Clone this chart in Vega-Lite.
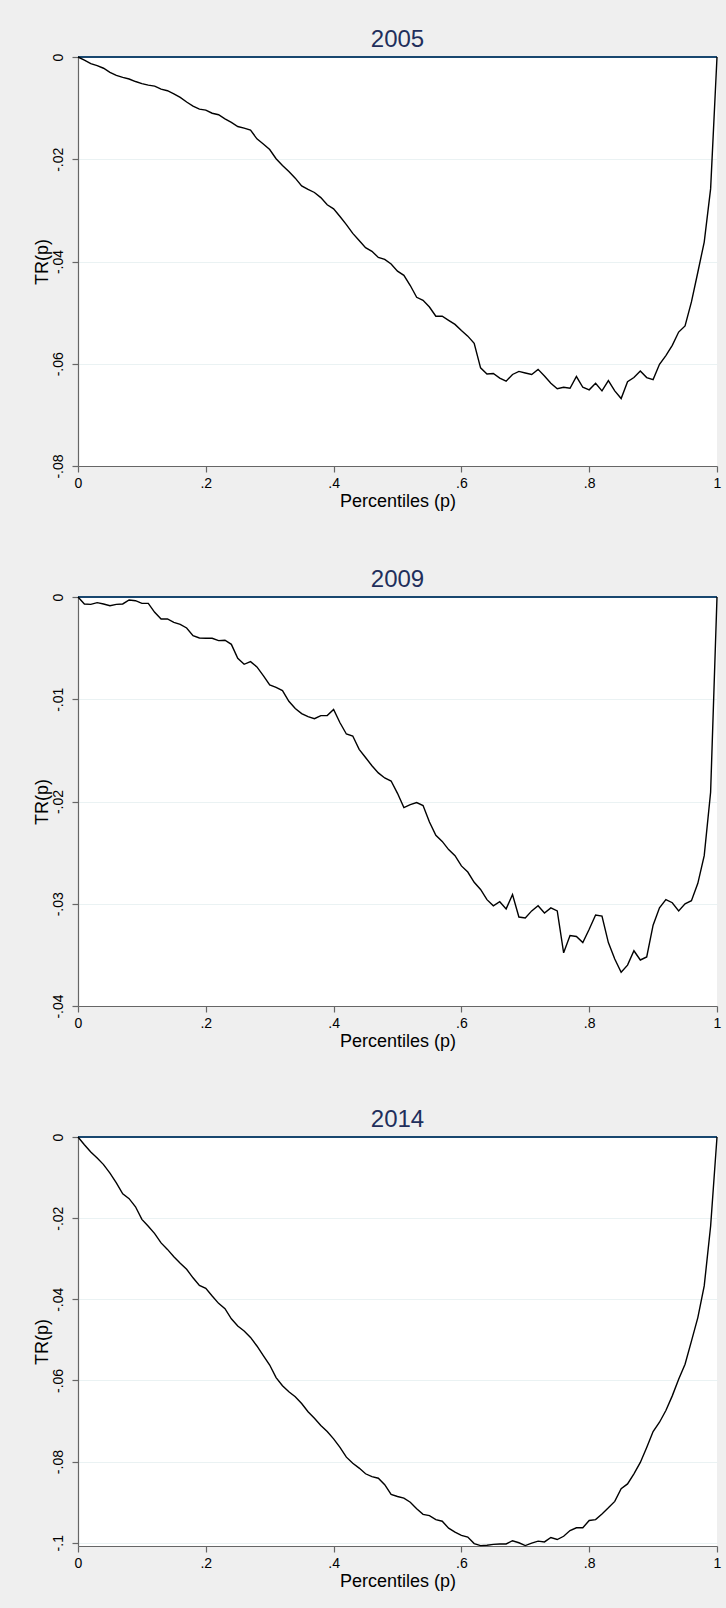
{
  "$schema": "https://vega.github.io/schema/vega-lite/v6.json",
  "background": "#efefef",
  "padding": {"left": 33, "top": 28, "right": 5, "bottom": 19},
  "spacing": 131,
  "bounds": "flush",
  "data": {
    "values": [
      {"year":"2005","p":0,"tr":0},{"year":"2005","p":0.01,"tr":-0.0006},{"year":"2005","p":0.02,"tr":-0.0013},{"year":"2005","p":0.03,"tr":-0.0017},{"year":"2005","p":0.04,"tr":-0.0022},{"year":"2005","p":0.05,"tr":-0.003},{"year":"2005","p":0.06,"tr":-0.0036},{"year":"2005","p":0.07,"tr":-0.004},{"year":"2005","p":0.08,"tr":-0.0043},{"year":"2005","p":0.09,"tr":-0.0048},
      {"year":"2005","p":0.1,"tr":-0.0052},{"year":"2005","p":0.11,"tr":-0.0055},{"year":"2005","p":0.12,"tr":-0.0057},{"year":"2005","p":0.13,"tr":-0.0063},{"year":"2005","p":0.14,"tr":-0.0066},{"year":"2005","p":0.15,"tr":-0.0072},{"year":"2005","p":0.16,"tr":-0.0079},{"year":"2005","p":0.17,"tr":-0.0088},{"year":"2005","p":0.18,"tr":-0.0096},{"year":"2005","p":0.19,"tr":-0.0102},
      {"year":"2005","p":0.2,"tr":-0.0104},{"year":"2005","p":0.21,"tr":-0.011},{"year":"2005","p":0.22,"tr":-0.0113},{"year":"2005","p":0.23,"tr":-0.0121},{"year":"2005","p":0.24,"tr":-0.0128},{"year":"2005","p":0.25,"tr":-0.0136},{"year":"2005","p":0.26,"tr":-0.0139},{"year":"2005","p":0.27,"tr":-0.0143},{"year":"2005","p":0.28,"tr":-0.016},{"year":"2005","p":0.29,"tr":-0.017},
      {"year":"2005","p":0.3,"tr":-0.0181},{"year":"2005","p":0.31,"tr":-0.0199},{"year":"2005","p":0.32,"tr":-0.0212},{"year":"2005","p":0.33,"tr":-0.0224},{"year":"2005","p":0.34,"tr":-0.0237},{"year":"2005","p":0.35,"tr":-0.0252},{"year":"2005","p":0.36,"tr":-0.0259},{"year":"2005","p":0.37,"tr":-0.0265},{"year":"2005","p":0.38,"tr":-0.0275},{"year":"2005","p":0.39,"tr":-0.0289},
      {"year":"2005","p":0.4,"tr":-0.0297},{"year":"2005","p":0.41,"tr":-0.0312},{"year":"2005","p":0.42,"tr":-0.0328},{"year":"2005","p":0.43,"tr":-0.0345},{"year":"2005","p":0.44,"tr":-0.0359},{"year":"2005","p":0.45,"tr":-0.0373},{"year":"2005","p":0.46,"tr":-0.038},{"year":"2005","p":0.47,"tr":-0.0392},{"year":"2005","p":0.48,"tr":-0.0396},{"year":"2005","p":0.49,"tr":-0.0405},
      {"year":"2005","p":0.5,"tr":-0.0419},{"year":"2005","p":0.51,"tr":-0.0427},{"year":"2005","p":0.52,"tr":-0.0447},{"year":"2005","p":0.53,"tr":-0.047},{"year":"2005","p":0.54,"tr":-0.0476},{"year":"2005","p":0.55,"tr":-0.0489},{"year":"2005","p":0.56,"tr":-0.0507},{"year":"2005","p":0.57,"tr":-0.0507},{"year":"2005","p":0.58,"tr":-0.0515},{"year":"2005","p":0.59,"tr":-0.0523},
      {"year":"2005","p":0.6,"tr":-0.0535},{"year":"2005","p":0.61,"tr":-0.0546},{"year":"2005","p":0.62,"tr":-0.056},{"year":"2005","p":0.63,"tr":-0.0608},{"year":"2005","p":0.64,"tr":-0.062},{"year":"2005","p":0.65,"tr":-0.0619},{"year":"2005","p":0.66,"tr":-0.0628},{"year":"2005","p":0.67,"tr":-0.0634},{"year":"2005","p":0.68,"tr":-0.0621},{"year":"2005","p":0.69,"tr":-0.0615},
      {"year":"2005","p":0.7,"tr":-0.0618},{"year":"2005","p":0.71,"tr":-0.0621},{"year":"2005","p":0.72,"tr":-0.0611},{"year":"2005","p":0.73,"tr":-0.0624},{"year":"2005","p":0.74,"tr":-0.0638},{"year":"2005","p":0.75,"tr":-0.0649},{"year":"2005","p":0.76,"tr":-0.0646},{"year":"2005","p":0.77,"tr":-0.0648},{"year":"2005","p":0.78,"tr":-0.0625},{"year":"2005","p":0.79,"tr":-0.0646},
      {"year":"2005","p":0.8,"tr":-0.0651},{"year":"2005","p":0.81,"tr":-0.0638},{"year":"2005","p":0.82,"tr":-0.0653},{"year":"2005","p":0.83,"tr":-0.0633},{"year":"2005","p":0.84,"tr":-0.0653},{"year":"2005","p":0.85,"tr":-0.0668},{"year":"2005","p":0.86,"tr":-0.0635},{"year":"2005","p":0.87,"tr":-0.0627},{"year":"2005","p":0.88,"tr":-0.0614},{"year":"2005","p":0.89,"tr":-0.0627},
      {"year":"2005","p":0.9,"tr":-0.0631},{"year":"2005","p":0.91,"tr":-0.0601},{"year":"2005","p":0.92,"tr":-0.0584},{"year":"2005","p":0.93,"tr":-0.0564},{"year":"2005","p":0.94,"tr":-0.0538},{"year":"2005","p":0.95,"tr":-0.0526},{"year":"2005","p":0.96,"tr":-0.0479},{"year":"2005","p":0.97,"tr":-0.0421},{"year":"2005","p":0.98,"tr":-0.0362},{"year":"2005","p":0.99,"tr":-0.0258},
      {"year":"2005","p":1,"tr":0},

      {"year":"2009","p":0,"tr":0},{"year":"2009","p":0.01,"tr":-0.00068},{"year":"2009","p":0.02,"tr":-0.00072},{"year":"2009","p":0.03,"tr":-0.00055},{"year":"2009","p":0.04,"tr":-0.00068},{"year":"2009","p":0.05,"tr":-0.00085},{"year":"2009","p":0.06,"tr":-0.00072},{"year":"2009","p":0.07,"tr":-0.00068},{"year":"2009","p":0.08,"tr":-0.00029},{"year":"2009","p":0.09,"tr":-0.00036},
      {"year":"2009","p":0.1,"tr":-0.00062},{"year":"2009","p":0.11,"tr":-0.00062},{"year":"2009","p":0.12,"tr":-0.0015},{"year":"2009","p":0.13,"tr":-0.00215},{"year":"2009","p":0.14,"tr":-0.00215},{"year":"2009","p":0.15,"tr":-0.00248},{"year":"2009","p":0.16,"tr":-0.00267},{"year":"2009","p":0.17,"tr":-0.00303},{"year":"2009","p":0.18,"tr":-0.00378},{"year":"2009","p":0.19,"tr":-0.00401},
      {"year":"2009","p":0.2,"tr":-0.00404},{"year":"2009","p":0.21,"tr":-0.00404},{"year":"2009","p":0.22,"tr":-0.00427},{"year":"2009","p":0.23,"tr":-0.00423},{"year":"2009","p":0.24,"tr":-0.00463},{"year":"2009","p":0.25,"tr":-0.00599},{"year":"2009","p":0.26,"tr":-0.00658},{"year":"2009","p":0.27,"tr":-0.00632},{"year":"2009","p":0.28,"tr":-0.00684},{"year":"2009","p":0.29,"tr":-0.00769},
      {"year":"2009","p":0.3,"tr":-0.0086},{"year":"2009","p":0.31,"tr":-0.00883},{"year":"2009","p":0.32,"tr":-0.00915},{"year":"2009","p":0.33,"tr":-0.0102},{"year":"2009","p":0.34,"tr":-0.0109},{"year":"2009","p":0.35,"tr":-0.0114},{"year":"2009","p":0.36,"tr":-0.0117},{"year":"2009","p":0.37,"tr":-0.0119},{"year":"2009","p":0.38,"tr":-0.0116},{"year":"2009","p":0.39,"tr":-0.0116},
      {"year":"2009","p":0.4,"tr":-0.011},{"year":"2009","p":0.41,"tr":-0.0123},{"year":"2009","p":0.42,"tr":-0.0134},{"year":"2009","p":0.43,"tr":-0.0136},{"year":"2009","p":0.44,"tr":-0.0149},{"year":"2009","p":0.45,"tr":-0.0157},{"year":"2009","p":0.46,"tr":-0.0165},{"year":"2009","p":0.47,"tr":-0.0172},{"year":"2009","p":0.48,"tr":-0.0177},{"year":"2009","p":0.49,"tr":-0.018},
      {"year":"2009","p":0.5,"tr":-0.0192},{"year":"2009","p":0.51,"tr":-0.0206},{"year":"2009","p":0.52,"tr":-0.0203},{"year":"2009","p":0.53,"tr":-0.0201},{"year":"2009","p":0.54,"tr":-0.0204},{"year":"2009","p":0.55,"tr":-0.022},{"year":"2009","p":0.56,"tr":-0.0233},{"year":"2009","p":0.57,"tr":-0.0239},{"year":"2009","p":0.58,"tr":-0.0247},{"year":"2009","p":0.59,"tr":-0.0253},
      {"year":"2009","p":0.6,"tr":-0.0263},{"year":"2009","p":0.61,"tr":-0.0269},{"year":"2009","p":0.62,"tr":-0.0279},{"year":"2009","p":0.63,"tr":-0.0286},{"year":"2009","p":0.64,"tr":-0.0296},{"year":"2009","p":0.65,"tr":-0.0302},{"year":"2009","p":0.66,"tr":-0.0298},{"year":"2009","p":0.67,"tr":-0.0305},{"year":"2009","p":0.68,"tr":-0.0291},{"year":"2009","p":0.69,"tr":-0.0313},
      {"year":"2009","p":0.7,"tr":-0.0314},{"year":"2009","p":0.71,"tr":-0.0307},{"year":"2009","p":0.72,"tr":-0.0302},{"year":"2009","p":0.73,"tr":-0.0309},{"year":"2009","p":0.74,"tr":-0.0304},{"year":"2009","p":0.75,"tr":-0.0307},{"year":"2009","p":0.76,"tr":-0.0348},{"year":"2009","p":0.77,"tr":-0.0331},{"year":"2009","p":0.78,"tr":-0.0332},{"year":"2009","p":0.79,"tr":-0.0338},
      {"year":"2009","p":0.8,"tr":-0.0325},{"year":"2009","p":0.81,"tr":-0.0311},{"year":"2009","p":0.82,"tr":-0.0312},{"year":"2009","p":0.83,"tr":-0.0338},{"year":"2009","p":0.84,"tr":-0.0354},{"year":"2009","p":0.85,"tr":-0.0367},{"year":"2009","p":0.86,"tr":-0.036},{"year":"2009","p":0.87,"tr":-0.0346},{"year":"2009","p":0.88,"tr":-0.0355},{"year":"2009","p":0.89,"tr":-0.0352},
      {"year":"2009","p":0.9,"tr":-0.0321},{"year":"2009","p":0.91,"tr":-0.0304},{"year":"2009","p":0.92,"tr":-0.0296},{"year":"2009","p":0.93,"tr":-0.0299},{"year":"2009","p":0.94,"tr":-0.0307},{"year":"2009","p":0.95,"tr":-0.03},{"year":"2009","p":0.96,"tr":-0.0297},{"year":"2009","p":0.97,"tr":-0.028},{"year":"2009","p":0.98,"tr":-0.0253},{"year":"2009","p":0.99,"tr":-0.0191},
      {"year":"2009","p":1,"tr":0},

      {"year":"2014","p":0,"tr":0},{"year":"2014","p":0.01,"tr":-0.0019},{"year":"2014","p":0.02,"tr":-0.0037},{"year":"2014","p":0.03,"tr":-0.0052},{"year":"2014","p":0.04,"tr":-0.0068},{"year":"2014","p":0.05,"tr":-0.0089},{"year":"2014","p":0.06,"tr":-0.0113},{"year":"2014","p":0.07,"tr":-0.014},{"year":"2014","p":0.08,"tr":-0.0152},{"year":"2014","p":0.09,"tr":-0.0172},
      {"year":"2014","p":0.1,"tr":-0.0203},{"year":"2014","p":0.11,"tr":-0.022},{"year":"2014","p":0.12,"tr":-0.0238},{"year":"2014","p":0.13,"tr":-0.0261},{"year":"2014","p":0.14,"tr":-0.0277},{"year":"2014","p":0.15,"tr":-0.0295},{"year":"2014","p":0.16,"tr":-0.0311},{"year":"2014","p":0.17,"tr":-0.0326},{"year":"2014","p":0.18,"tr":-0.0347},{"year":"2014","p":0.19,"tr":-0.0366},
      {"year":"2014","p":0.2,"tr":-0.0373},{"year":"2014","p":0.21,"tr":-0.0392},{"year":"2014","p":0.22,"tr":-0.041},{"year":"2014","p":0.23,"tr":-0.0423},{"year":"2014","p":0.24,"tr":-0.0448},{"year":"2014","p":0.25,"tr":-0.0466},{"year":"2014","p":0.26,"tr":-0.0478},{"year":"2014","p":0.27,"tr":-0.0494},{"year":"2014","p":0.28,"tr":-0.0515},{"year":"2014","p":0.29,"tr":-0.0539},
      {"year":"2014","p":0.3,"tr":-0.0562},{"year":"2014","p":0.31,"tr":-0.0593},{"year":"2014","p":0.32,"tr":-0.0613},{"year":"2014","p":0.33,"tr":-0.0628},{"year":"2014","p":0.34,"tr":-0.064},{"year":"2014","p":0.35,"tr":-0.0657},{"year":"2014","p":0.36,"tr":-0.0677},{"year":"2014","p":0.37,"tr":-0.0693},{"year":"2014","p":0.38,"tr":-0.0711},{"year":"2014","p":0.39,"tr":-0.0726},
      {"year":"2014","p":0.4,"tr":-0.0744},{"year":"2014","p":0.41,"tr":-0.0765},{"year":"2014","p":0.42,"tr":-0.0789},{"year":"2014","p":0.43,"tr":-0.0804},{"year":"2014","p":0.44,"tr":-0.0816},{"year":"2014","p":0.45,"tr":-0.083},{"year":"2014","p":0.46,"tr":-0.0837},{"year":"2014","p":0.47,"tr":-0.0841},{"year":"2014","p":0.48,"tr":-0.0857},{"year":"2014","p":0.49,"tr":-0.0881},
      {"year":"2014","p":0.5,"tr":-0.0886},{"year":"2014","p":0.51,"tr":-0.089},{"year":"2014","p":0.52,"tr":-0.09},{"year":"2014","p":0.53,"tr":-0.0916},{"year":"2014","p":0.54,"tr":-0.093},{"year":"2014","p":0.55,"tr":-0.0933},{"year":"2014","p":0.56,"tr":-0.0943},{"year":"2014","p":0.57,"tr":-0.0947},{"year":"2014","p":0.58,"tr":-0.0964},{"year":"2014","p":0.59,"tr":-0.0974},
      {"year":"2014","p":0.6,"tr":-0.0982},{"year":"2014","p":0.61,"tr":-0.0986},{"year":"2014","p":0.62,"tr":-0.1002},{"year":"2014","p":0.63,"tr":-0.1007},{"year":"2014","p":0.64,"tr":-0.1006},{"year":"2014","p":0.65,"tr":-0.1004},{"year":"2014","p":0.66,"tr":-0.1003},{"year":"2014","p":0.67,"tr":-0.1003},{"year":"2014","p":0.68,"tr":-0.0995},{"year":"2014","p":0.69,"tr":-0.1},
      {"year":"2014","p":0.7,"tr":-0.1007},{"year":"2014","p":0.71,"tr":-0.1001},{"year":"2014","p":0.72,"tr":-0.0996},{"year":"2014","p":0.73,"tr":-0.0998},{"year":"2014","p":0.74,"tr":-0.0987},{"year":"2014","p":0.75,"tr":-0.0992},{"year":"2014","p":0.76,"tr":-0.0984},{"year":"2014","p":0.77,"tr":-0.097},{"year":"2014","p":0.78,"tr":-0.0963},{"year":"2014","p":0.79,"tr":-0.0963},
      {"year":"2014","p":0.8,"tr":-0.0945},{"year":"2014","p":0.81,"tr":-0.0943},{"year":"2014","p":0.82,"tr":-0.0929},{"year":"2014","p":0.83,"tr":-0.0914},{"year":"2014","p":0.84,"tr":-0.0898},{"year":"2014","p":0.85,"tr":-0.0867},{"year":"2014","p":0.86,"tr":-0.0855},{"year":"2014","p":0.87,"tr":-0.083},{"year":"2014","p":0.88,"tr":-0.0802},{"year":"2014","p":0.89,"tr":-0.0765},
      {"year":"2014","p":0.9,"tr":-0.0726},{"year":"2014","p":0.91,"tr":-0.0703},{"year":"2014","p":0.92,"tr":-0.0674},{"year":"2014","p":0.93,"tr":-0.0638},{"year":"2014","p":0.94,"tr":-0.0597},{"year":"2014","p":0.95,"tr":-0.056},{"year":"2014","p":0.96,"tr":-0.0503},{"year":"2014","p":0.97,"tr":-0.0445},{"year":"2014","p":0.98,"tr":-0.0367},{"year":"2014","p":0.99,"tr":-0.022},
      {"year":"2014","p":1,"tr":0}
    ]
  },
  "vconcat": [
    {
      "title": "2005",
      "width": 639,
      "height": 409,
      "transform": [{"filter": "datum.year == '2005'"}],
      "layer": [
        {"mark": {"type": "rule", "color": "#1a476f", "strokeWidth": 1.6}, "encoding": {"y": {"datum": 0}}},
        {
          "mark": {"type": "line", "color": "#000000", "strokeWidth": 1.4},
          "encoding": {
            "x": {"field": "p", "type": "quantitative", "scale": {"domain": [0, 1], "nice": false}, "axis": {"values": [0, 0.2, 0.4, 0.6, 0.8, 1]}, "title": "Percentiles (p)"},
            "y": {"field": "tr", "type": "quantitative", "scale": {"domain": [-0.08, 0], "nice": false, "zero": false}, "axis": {"values": [0, -0.02, -0.04, -0.06, -0.08]}, "title": "TR(p)"}
          }
        }
      ]
    },
    {
      "title": "2009",
      "width": 639,
      "height": 409,
      "transform": [{"filter": "datum.year == '2009'"}],
      "layer": [
        {"mark": {"type": "rule", "color": "#1a476f", "strokeWidth": 1.6}, "encoding": {"y": {"datum": 0}}},
        {
          "mark": {"type": "line", "color": "#000000", "strokeWidth": 1.4},
          "encoding": {
            "x": {"field": "p", "type": "quantitative", "scale": {"domain": [0, 1], "nice": false}, "axis": {"values": [0, 0.2, 0.4, 0.6, 0.8, 1]}, "title": "Percentiles (p)"},
            "y": {"field": "tr", "type": "quantitative", "scale": {"domain": [-0.04, 0], "nice": false, "zero": false}, "axis": {"values": [0, -0.01, -0.02, -0.03, -0.04]}, "title": "TR(p)"}
          }
        }
      ]
    },
    {
      "title": "2014",
      "width": 639,
      "height": 409,
      "transform": [{"filter": "datum.year == '2014'"}],
      "layer": [
        {"mark": {"type": "rule", "color": "#1a476f", "strokeWidth": 1.6}, "encoding": {"y": {"datum": 0}}},
        {
          "mark": {"type": "line", "color": "#000000", "strokeWidth": 1.4},
          "encoding": {
            "x": {"field": "p", "type": "quantitative", "scale": {"domain": [0, 1], "nice": false}, "axis": {"values": [0, 0.2, 0.4, 0.6, 0.8, 1]}, "title": "Percentiles (p)"},
            "y": {"field": "tr", "type": "quantitative", "scale": {"domain": [-0.1008, 0], "nice": false, "zero": false}, "axis": {"values": [0, -0.02, -0.04, -0.06, -0.08, -0.1]}, "title": "TR(p)"}
          }
        }
      ]
    }
  ],
  "config": {
    "view": {"fill": "#ffffff", "stroke": null},
    "title": {"font": "Liberation Sans", "fontSize": 24, "fontWeight": "normal", "color": "#1f2f5c", "offset": 1, "anchor": "middle"},
    "axis": {
      "labelFont": "Liberation Sans",
      "labelFontSize": 14,
      "labelColor": "#000000",
      "titleFont": "Liberation Sans",
      "titleFontSize": 18,
      "titleFontWeight": "normal",
      "titleColor": "#000000",
      "domainColor": "#666666",
      "domainWidth": 1.2,
      "tickColor": "#666666",
      "tickWidth": 1.2,
      "tickSize": 6,
      "gridColor": "#eaf2f3",
      "gridWidth": 1.2,
      "labelFlush": false,
      "labelOverlap": false,
      "labelExpr": "(datum.value < 0 ? '-' : '') + replace(format(abs(datum.value), '~g'), '0.', '.')"
    },
    "axisX": {"grid": false, "labelPadding": 4, "titlePadding": 2},
    "axisY": {"grid": true, "labelAngle": 270, "labelAlign": "center", "labelBaseline": "bottom", "labelPadding": 7, "titlePadding": 0}
  }
}
